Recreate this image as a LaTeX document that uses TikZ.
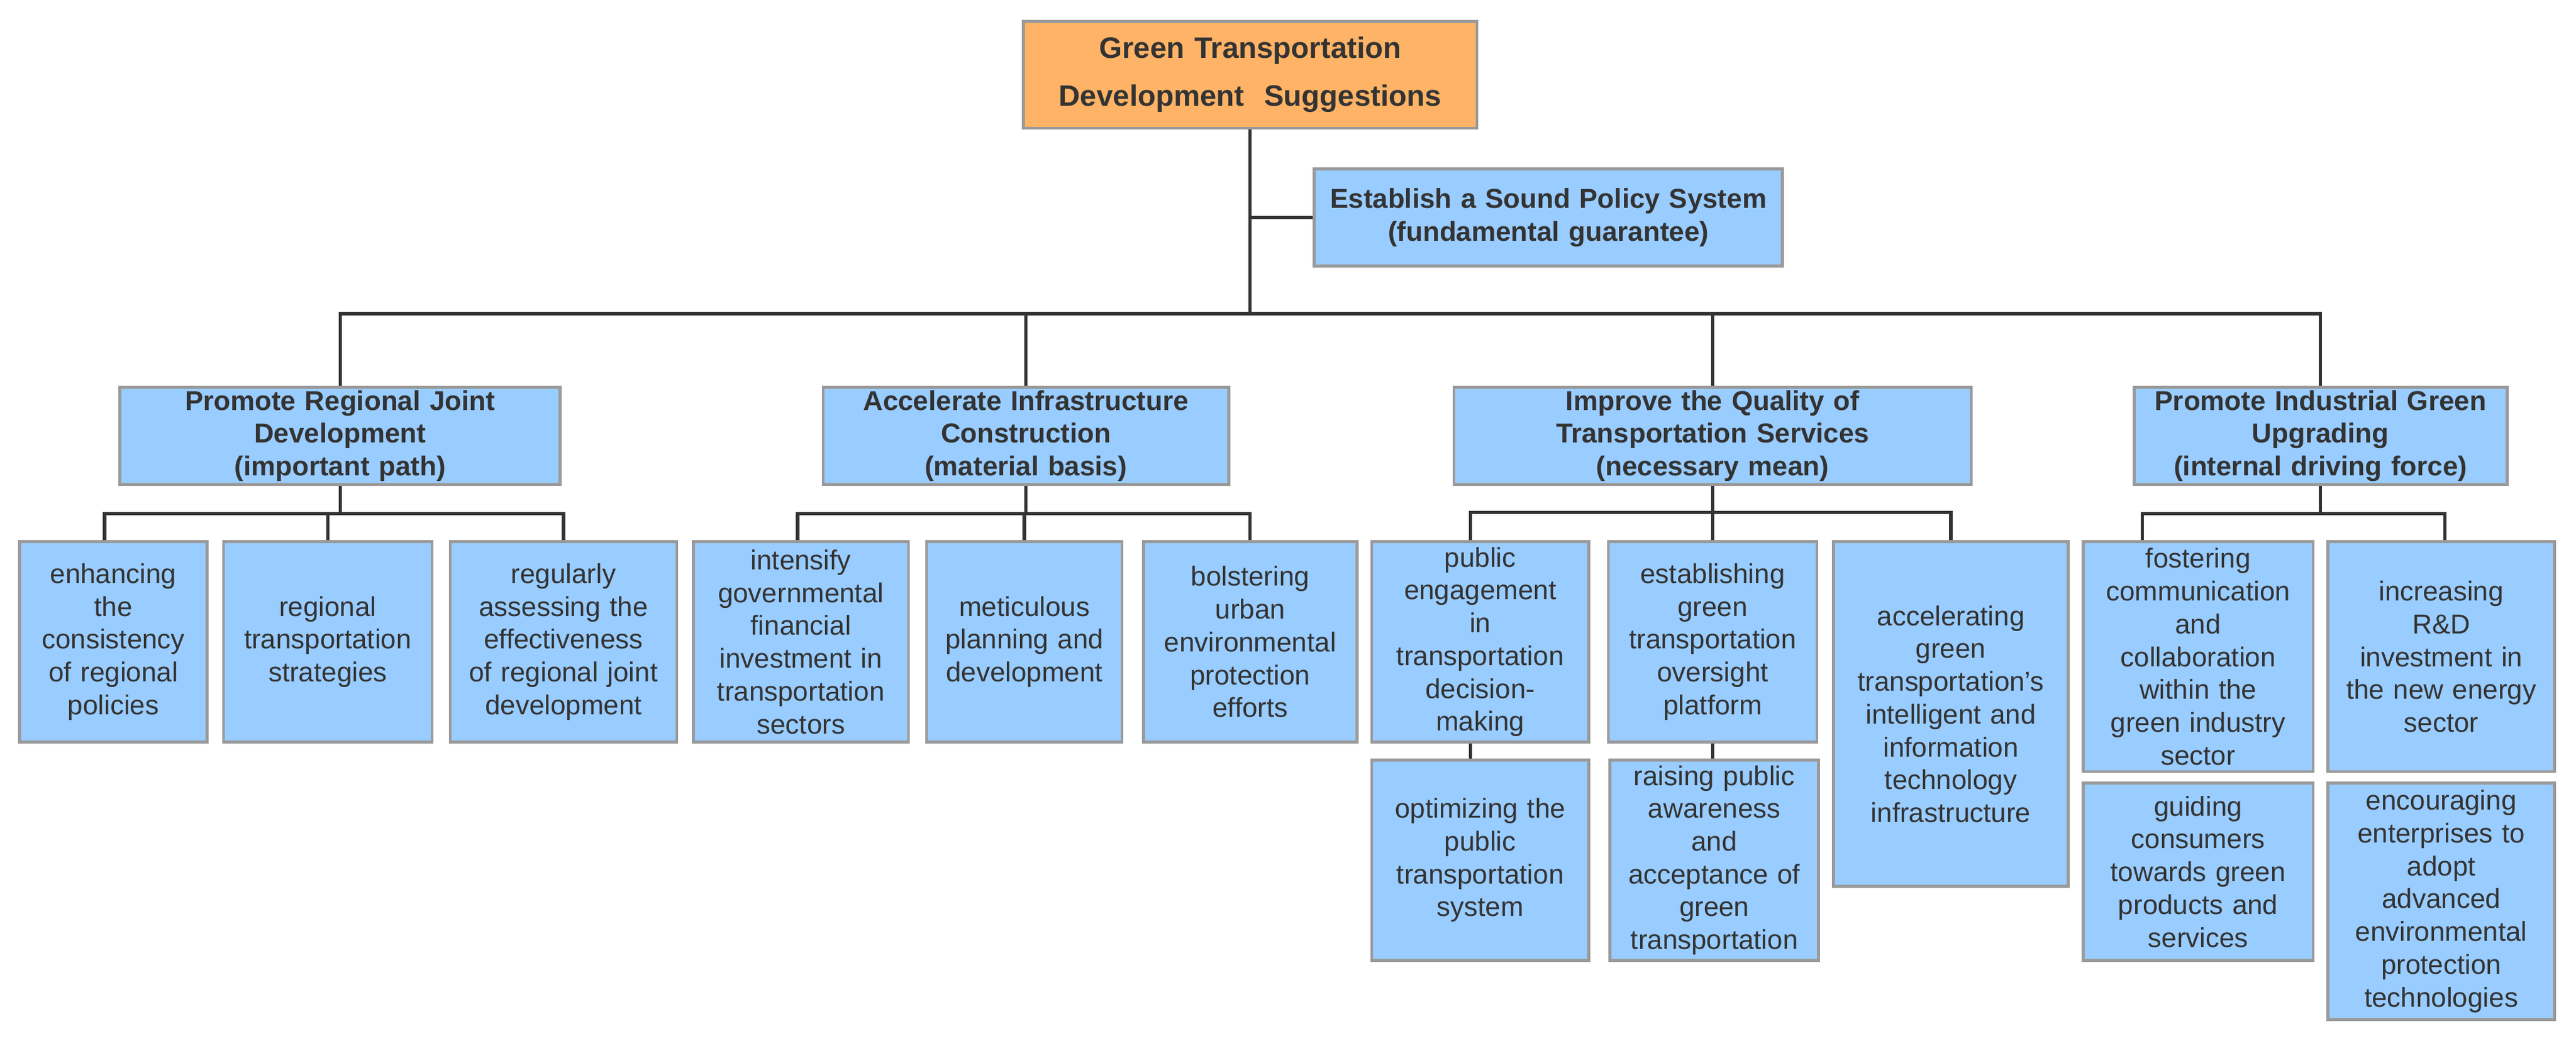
\documentclass[tikz,border=0pt]{standalone}
\usepackage{fontspec}
\setmainfont{Liberation Sans}
\definecolor{bl}{HTML}{99CCFF}
\definecolor{orn}{HTML}{FFB366}
\definecolor{brd}{HTML}{9A9A9A}
\definecolor{ln}{HTML}{333333}
\newcommand\bx[6]{%
  \pgfmathsetmacro\bw{(#4-#2)*0.02638}%
  \pgfmathsetmacro\bh{(#5-#3)*0.02638}%
  \pgfmathsetmacro\tw{(#4-#2)*0.02638-0.25}%
  \node[box,minimum width=\bw cm,minimum height=\bh cm,text width=\tw cm,#6] (#1) at ({(#2+#4)/2},{(#3+#5)/2})}
\begin{document}
\begin{tikzpicture}[x=0.02638cm,y=-0.02638cm,
  box/.style={draw=brd,line width=1.3pt,fill=bl,align=center,inner sep=0pt,text=ln,
    font=\fontsize{12.5}{15}\selectfont},
  hd/.style={font=\fontsize{12.5}{15}\selectfont\bfseries},
  con/.style={draw=ln,line width=1.5pt}]
\useasboundingbox (0,0) rectangle (1568,634);
\bx{root}{623}{13}{899}{78}{hd,fill=orn,font=\fontsize{13.5}{22}\selectfont\bfseries}{Green Transportation\\Development\ \ Suggestions};
\bx{pol}{800}{103}{1085}{162}{hd}{Establish a Sound Policy System\\(fundamental guarantee)};
\bx{A}{73}{236}{341}{295}{hd}{Promote Regional Joint\\Development\\(important path)};
\bx{B}{501}{236}{748}{295}{hd}{Accelerate Infrastructure\\Construction\\(material basis)};
\bx{C}{885}{236}{1200}{295}{hd}{Improve the Quality of\\Transportation Services\\(necessary mean)};
\bx{D}{1299}{236}{1526}{295}{hd}{Promote Industrial Green\\Upgrading\\(internal driving force)};
\bx{A1}{12}{330}{126}{452}{}{enhancing\\the\\consistency\\of regional\\policies};
\bx{A2}{136}{330}{263}{452}{}{regional\\transportation\\strategies};
\bx{A3}{274}{330}{412}{452}{}{regularly\\assessing the\\effectiveness\\of regional joint\\development};
\bx{B1}{422}{330}{553}{452}{}{intensify\\governmental\\financial\\investment in\\transportation\\sectors};
\bx{B2}{564}{330}{683}{452}{}{meticulous\\planning and\\development};
\bx{B3}{696}{330}{826}{452}{}{bolstering\\urban\\environmental\\protection\\efforts};
\bx{C1}{835}{330}{967}{452}{}{public\\engagement\\in\\transportation\\decision-\\making};
\bx{C2}{979}{330}{1106}{452}{}{establishing\\green\\transportation\\oversight\\platform};
\bx{C3}{1116}{330}{1259}{540}{}{accelerating\\green\\transportation's\\intelligent and\\information\\technology\\infrastructure};
\bx{C1b}{835}{463}{967}{585}{}{optimizing the\\public\\transportation\\system};
\bx{C2b}{980}{463}{1107}{585}{}{raising public\\awareness\\and\\acceptance of\\green\\transportation};
\bx{D1}{1268}{330}{1408}{470}{}{fostering\\communication\\and\\collaboration\\within the\\green industry\\sector};
\bx{D2}{1417}{330}{1555}{470}{}{increasing\\R\&D\\investment in\\the new energy\\sector};
\bx{D1b}{1268}{477}{1408}{585}{}{guiding\\consumers\\towards green\\products and\\services};
\bx{D2b}{1417}{477}{1555}{621}{}{encouraging\\enterprises to\\adopt\\advanced\\environmental\\protection\\technologies};
\coordinate (bus) at (0,191);
\coordinate (ra) at (0,313);
\coordinate (rc) at (0,312);
\draw[con] (root.south) -- (root.south|-bus);
\draw[con] (pol.west) -- (pol.west-|root.south);
\draw[con] (A.north) -- (A.north|-bus) -- (D.north|-bus) -- (D.north);
\draw[con] (B.north) -- (B.north|-bus);
\draw[con] (C.north) -- ([xshift=0]C.north|-bus);
% A
\draw[con] (A.south) -- (A.south|-ra);
\draw[con] ([xshift=-4pt]A1.north) -- ([xshift=-4pt]A1.north|-ra) -- ([xshift=0]A3.north|-ra) -- (A3.north);
\draw[con] (A2.north) -- (A2.north|-ra);
% B
\draw[con] (B.south) -- (B.south|-ra);
\draw[con] ([xshift=-1.5pt]B1.north) -- ([xshift=-1.5pt]B1.north|-ra) -- (B3.north|-ra) -- (B3.north);
\draw[con] (B2.north) -- (B2.north|-ra);
% C
\draw[con] (C.south) -- (C.south|-rc);
\draw[con] ([xshift=-4.5pt]C1.north) -- ([xshift=-4.5pt]C1.north|-rc) -- (C3.north|-rc) -- (C3.north);
\draw[con] (C2.north) -- (C2.north|-rc);
\draw[con] ([xshift=-4.5pt]C1.south) -- ([xshift=-4.5pt]C1b.north);
\draw[con] (C2.south) -- (C2.south|-C2b.north);
% D
\draw[con] (D.south) -- (D.south|-ra);
\draw[con] ([xshift=-0.9cm]D1.north) -- ([xshift=-0.9cm]D1.north|-ra) -- ([xshift=0.06cm]D2.north|-ra) -- ([xshift=0.06cm]D2.north);
\end{tikzpicture}
\end{document}
